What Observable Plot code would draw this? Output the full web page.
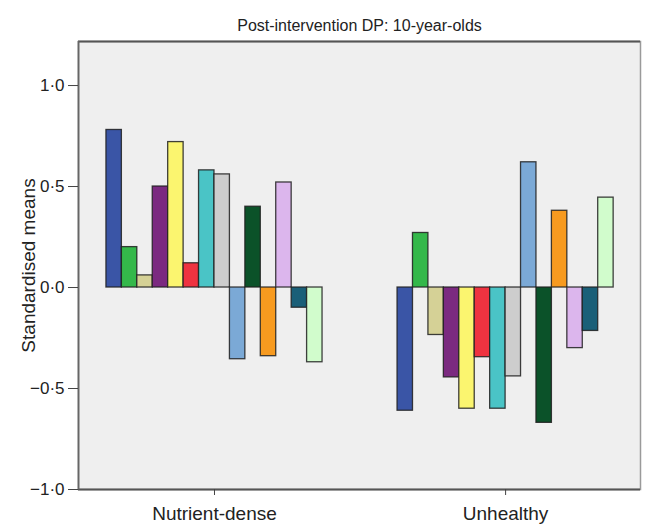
<!DOCTYPE html>
<html>
<head>
<meta charset="utf-8">
<script src="https://cdn.jsdelivr.net/npm/d3@7"></script>
<script src="https://cdn.jsdelivr.net/npm/@observablehq/plot@0.6"></script>
<style>
  body { margin: 0; background: #ffffff; }
  #chart svg { display: block; }
</style>
</head>
<body>
<div id="chart"></div>
<script>
// ---- Data ----
const groups = ["Nutrient-dense", "Unhealthy"];
const seriesNames = ["S1", "S2", "S3", "S4", "S5", "S6", "S7", "S8", "S9", "S10", "S11", "S12", "S13", "S14"];
const nutrientDense = [0.78, 0.20, 0.06, 0.50, 0.72, 0.12, 0.58, 0.56, -0.355, 0.40, -0.34, 0.52, -0.10, -0.37];
const unhealthy = [-0.61, 0.27, -0.235, -0.445, -0.60, -0.345, -0.60, -0.44, 0.62, -0.67, 0.38, -0.30, -0.215, 0.445];
const seriesColors = ["#3a55a6", "#34b84a", "#d5d196", "#7b2a80", "#fbf56f", "#ee3340", "#4ac4c6",
                      "#cdcdcd", "#7ba9d6", "#0b5229", "#f79a1f", "#dcb6ed", "#1a5f78", "#d1fccc"];
const yTicks = [-1, -0.5, 0, 0.5, 1];
const yTickLabels = ["\u22121\u00b70", "\u22120\u00b75", "0\u00b70", "0\u00b75", "1\u00b70"];
const title = "Post-intervention DP: 10-year-olds";
const yLabel = "Standardised means";

// ---- Layout (in bar-width units) ----
const groupGap = 4.86;
const nSeries = seriesNames.length;
const groupStart = groups.map((g, gi) => gi * (nSeries + groupGap));
const groupCenters = groupStart.map(s => s + nSeries / 2);
const xDomain = [-1.81, 34.6];
const yDomain = [-1, 1.218];

const table = [];
[nutrientDense, unhealthy].forEach((vals, gi) => {
  vals.forEach((v, i) => {
    table.push({group: groups[gi], series: seriesNames[i], value: v,
                x1: groupStart[gi] + i, x2: groupStart[gi] + i + 1});
  });
});

const font = "'Liberation Sans', Arial, Helvetica, sans-serif";

const chart = Plot.plot({
  width: 646,
  height: 525,
  marginLeft: 78,
  marginRight: 6,
  marginTop: 41,
  marginBottom: 36,
  style: {fontFamily: font, background: "#ffffff", color: "#222"},
  x: {domain: xDomain},
  y: {domain: yDomain},
  color: {domain: seriesNames, range: seriesColors},
  marks: [
    Plot.frame({fill: "#efefef", stroke: "#9a9a9a", strokeWidth: 1.5}),
    Plot.rectY(table, {x1: "x1", x2: "x2", y1: 0, y2: "value", fill: "series",
                       stroke: "#1e1e1e", strokeWidth: 1.3, strokeOpacity: 0.85}),
    Plot.ruleY([yDomain[0], yDomain[1]], {stroke: "#555", strokeWidth: 2.2}),
    Plot.ruleX([xDomain[0]], {stroke: "#666", strokeWidth: 1.8}),
    Plot.axisX({ticks: groupCenters, tickFormat: d => groups[groupCenters.indexOf(d)],
                tickSize: 6, tickPadding: 11, fontSize: 19, label: null, stroke: "#444"}),
    Plot.axisY({ticks: yTicks, tickFormat: d => yTickLabels[yTicks.indexOf(d)],
                tickSize: 10, tickPadding: 4, fontSize: 17, label: null, stroke: "#444"}),
    Plot.text([yLabel], {frameAnchor: "left", dx: -50, rotate: -90, textAnchor: "middle",
                         fontSize: 19, fill: "#222"}),
    Plot.text([title], {frameAnchor: "top", dy: -22, fontSize: 16, fill: "#222"})
  ]
});
document.getElementById("chart").appendChild(chart);
</script>
</body>
</html>
